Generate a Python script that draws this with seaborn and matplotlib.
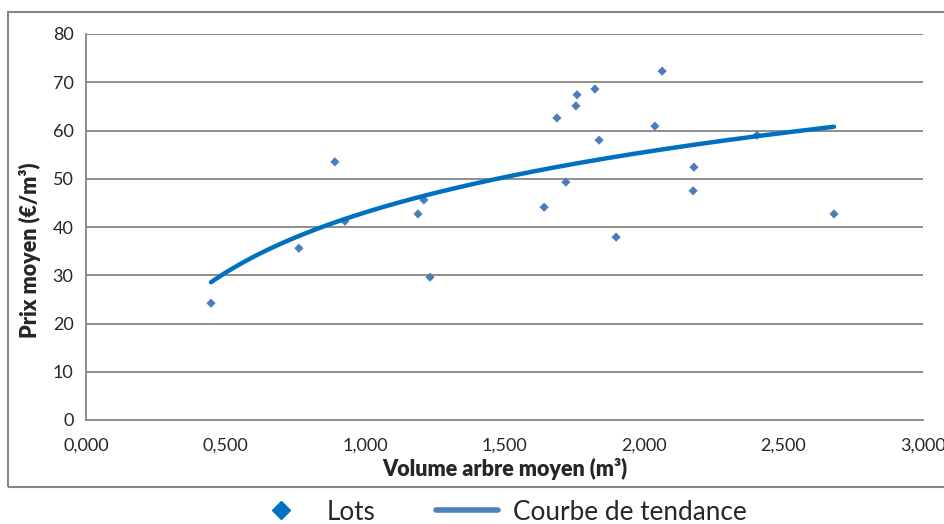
import numpy as np
import pandas as pd
import matplotlib
matplotlib.use('Agg')
import matplotlib.pyplot as plt
import seaborn as sns
from matplotlib.ticker import FuncFormatter, MultipleLocator
from matplotlib.lines import Line2D
from matplotlib.patches import Rectangle

# volume arbre moyen (m3) et prix moyen (EUR/m3) par lot
volume = [0.448, 0.763, 0.892, 0.928, 1.190, 1.211, 1.233, 1.642, 1.688, 1.720, 1.756,
          1.760, 1.824, 1.839, 1.900, 2.039, 2.065, 2.176, 2.179, 2.405, 2.681]
prix = [24.2, 35.6, 53.5, 41.2, 42.7, 45.6, 29.6, 44.1, 62.6, 49.3, 65.1,
        67.4, 68.6, 58.0, 37.9, 60.9, 72.3, 47.5, 52.4, 59.0, 42.7]

df = pd.DataFrame({'volume': volume, 'prix': prix})

# courbe de tendance logarithmique (comme Excel)
b, a = np.polyfit(np.log(df['volume']), df['prix'], 1)
xs = np.linspace(df['volume'].min(), df['volume'].max(), 200)
trend = pd.DataFrame({'volume': xs, 'prix': a + b * np.log(xs)})

sns.set_style('white')
plt.rcParams['font.family'] = ['Lato', 'DejaVu Sans']

fig = plt.figure(figsize=(9.45, 5.24), dpi=100)
ax = fig.add_axes([86/945, 1-420/524, (923-86)/945, (420-34)/524])

grey = '#868686'
for yv in range(10, 81, 10):
    ax.axhline(yv, color=grey, lw=1.3, zorder=0)

sns.scatterplot(data=df, x='volume', y='prix', marker='D', s=22, color='#4a7ebb',
                edgecolor='none', ax=ax, zorder=3)
sns.lineplot(data=trend, x='volume', y='prix', color='#0070c0', lw=3.2, ax=ax, zorder=4)

ax.set_xlim(0, 3)
ax.set_ylim(0, 80)
ax.xaxis.set_major_locator(MultipleLocator(0.5))
ax.yaxis.set_major_locator(MultipleLocator(10))
ax.xaxis.set_major_formatter(FuncFormatter(lambda v, p: f'{v:.3f}'.replace('.', ',')))
ax.tick_params(axis='both', labelsize=13, colors='#262626', length=5, width=1.3, color=grey)
ax.tick_params(axis='x', pad=8)
ax.tick_params(axis='y', pad=4)
for s in ['top', 'right']:
    ax.spines[s].set_visible(False)
for s in ['left', 'bottom']:
    ax.spines[s].set_color(grey)
    ax.spines[s].set_linewidth(1.3)

ax.set_xlabel('Volume arbre moyen (m³)', fontsize=15.5, fontweight='heavy', labelpad=3)
ax.set_ylabel('Prix moyen (€/m³)', fontsize=15.5, fontweight='heavy')
ax.yaxis.set_label_coords(-0.054, 0.44)

# cadre du graphique
fig.patches.append(Rectangle((8/945, 1-487/524), 0.995, (487-12)/524, transform=fig.transFigure,
                             fill=False, edgecolor=grey, lw=1.5))

handles = [Line2D([], [], marker='D', ls='none', color='#0070c0', markersize=9),
           Line2D([], [], color='#4f81bd', lw=4)]
fig.legend(handles, ['Lots', 'Courbe de tendance'], loc='center', ncol=2,
           bbox_to_anchor=(498/945, 1-512/524), frameon=False, fontsize=18.8,
           columnspacing=2.3, handlelength=2.4, handletextpad=0.55)

fig.savefig('out.png', dpi=100)
